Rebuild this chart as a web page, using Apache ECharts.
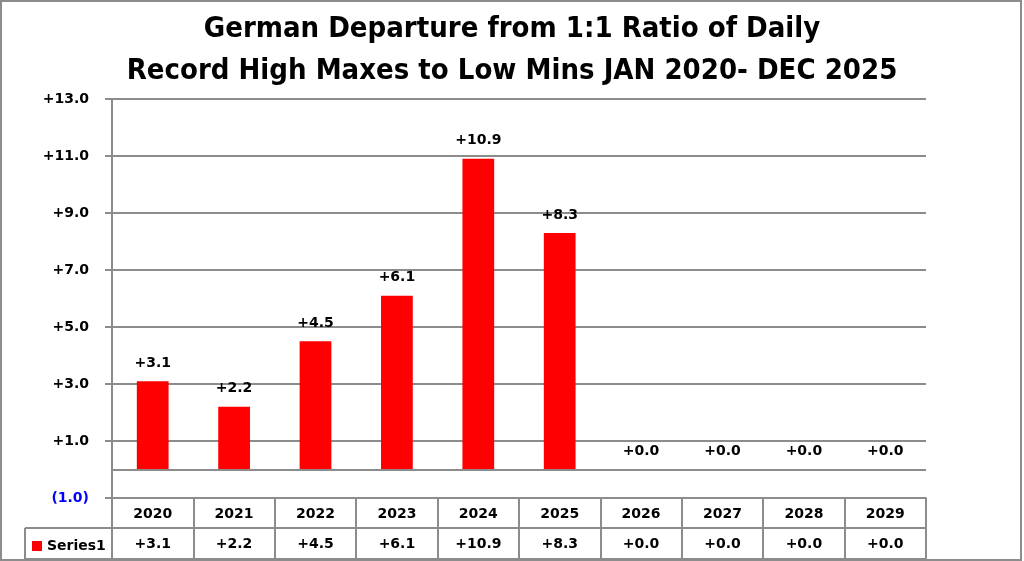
<!DOCTYPE html>
<html><head><meta charset="utf-8">
<script src="https://cdn.jsdelivr.net/npm/echarts@6/dist/echarts.min.js"></script>
<style>
html,body{margin:0;padding:0;background:#fff;}
#c{width:1024px;height:561px;}
#frame{position:absolute;left:0;top:0;width:1018px;height:557px;border:2px solid #8c8c8c;pointer-events:none;}
</style></head>
<body><div id="c"></div><div id="frame"></div>
<script>
const titleLines = ['German Departure from 1:1 Ratio of Daily', 'Record High Maxes to Low Mins JAN 2020- DEC 2025'];
const years = ['2020','2021','2022','2023','2024','2025','2026','2027','2028','2029'];
const values = [3.1, 2.2, 4.5, 6.1, 10.9, 8.3, 0.0, 0.0, 0.0, 0.0];
const seriesName = 'Series1';
const yMin = -1, yMax = 13, yStep = 2;

const fmt = v => v < 0 ? '(' + Math.abs(v).toFixed(1) + ')' : '+' + v.toFixed(1);
const FONT = 'DejaVu Sans';
const GRAY = '#8c8c8c';

const chart = echarts.init(document.getElementById('c'), null, {renderer:'canvas'});
chart.setOption({
  animation:false,
  backgroundColor:'#fff',
  title:{
    text: titleLines.join('\n'),
    left:'center', top:3,
    textStyle:{fontFamily:'Liberation Sans Narrow, DejaVu Sans Condensed, sans-serif', fontWeight:'bold', fontSize:29, lineHeight:42, color:'#000'}
  },
  legend:{
    data:[{name:seriesName, icon:'rect'}],
    left:27, top:534, itemWidth:10, itemHeight:10, itemGap:5,
    textStyle:{fontFamily:FONT, fontWeight:'bold', fontSize:14, color:'#000'},
    selectedMode:false
  },
  grid:{left:112, right:98, top:99, bottom:63, containLabel:false},
  xAxis:[
    {type:'category', data:years, position:'bottom',
     axisLine:{onZero:false, lineStyle:{color:GRAY, width:2}},
     axisTick:{show:true, length:61, interval:0, lineStyle:{color:GRAY, width:2}},
     axisLabel:{margin:9, interval:0, fontFamily:FONT, fontWeight:'bold', fontSize:14, color:'#000'},
     splitLine:{show:false}},
    {type:'category', data:years, position:'bottom', offset:30,
     axisLine:{onZero:false, lineStyle:{color:GRAY, width:2}},
     axisTick:{show:false},
     axisLabel:{margin:9, interval:0, fontFamily:FONT, fontWeight:'bold', fontSize:14, color:'#000',
       formatter:(v, i) => fmt(values[i])}},
    {type:'category', data:years, position:'bottom', offset:61,
     axisLine:{onZero:false, lineStyle:{color:GRAY, width:2}},
     axisTick:{show:false}, axisLabel:{show:false}}
  ],
  yAxis:{
    type:'value', min:yMin, max:yMax, interval:yStep,
    axisLine:{show:true, lineStyle:{color:GRAY, width:2}},
    axisTick:{show:true, length:7, lineStyle:{color:GRAY, width:2}},
    axisLabel:{margin:23, fontFamily:FONT, fontWeight:'bold', fontSize:14,
      formatter:v => fmt(v), color:v => v < 0 ? '#0000ff' : '#000'},
    splitLine:{show:true, lineStyle:{color:GRAY, width:2}}
  },
  series:[{
    name:seriesName, type:'bar', xAxisIndex:0, data:values, barWidth:'39%',
    itemStyle:{color:'#ff0000'},
    label:{show:true, position:'top', distance:11, formatter:p => fmt(p.value),
      fontFamily:FONT, fontWeight:'bold', fontSize:14, color:'#000'},
    markLine:{silent:true, symbol:'none', label:{show:false},
      lineStyle:{color:GRAY, width:2, type:'solid'}, data:[{yAxis:0}]}
  }],
  graphic:[
    {type:'line', shape:{x1:25, y1:528, x2:112, y2:528}, style:{stroke:GRAY, lineWidth:2}},
    {type:'line', shape:{x1:25, y1:559, x2:112, y2:559}, style:{stroke:GRAY, lineWidth:2}},
    {type:'line', shape:{x1:25, y1:528, x2:25, y2:559}, style:{stroke:GRAY, lineWidth:2}}
  ]
});
</script></body></html>
